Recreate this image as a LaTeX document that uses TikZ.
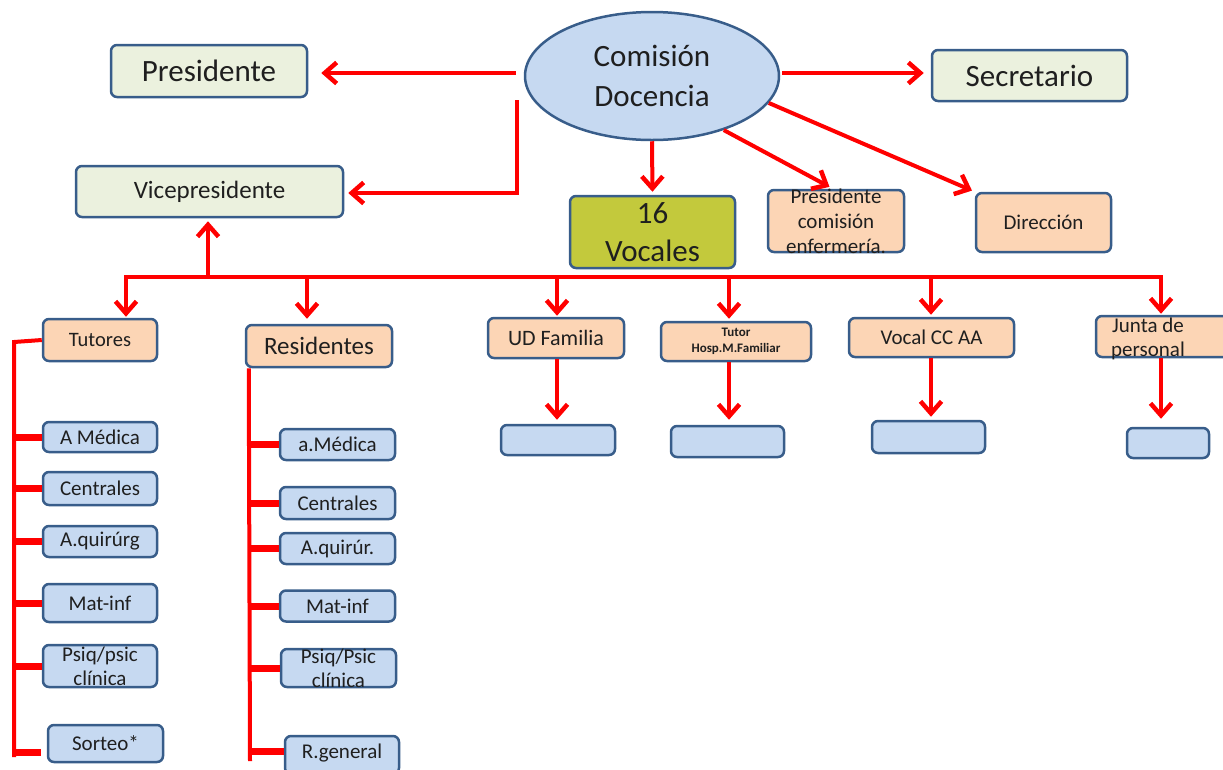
\documentclass[tikz,border=0pt]{standalone}
\usepackage{fontspec}
\setmainfont{Carlito}
\usetikzlibrary{arrows.meta,shapes.geometric,calc}
\definecolor{bdr}{HTML}{385D8A}
\definecolor{lblue}{HTML}{C6D9F1}
\definecolor{lgreen}{HTML}{EBF1DE}
\definecolor{peach}{HTML}{FCD5B5}
\definecolor{olivebox}{HTML}{C3C93C}
\definecolor{rline}{HTML}{FF0000}
\newcommand{\fsz}[2]{\fontsize{#1}{#2}\selectfont}
\newcommand{\mkbox}[8]{%
  \node[box,fill=#2,minimum width=#5pt,minimum height=#6pt] (#1) at (#3,#4) {};
  \node[lbl,font=#7] (#1-t) at (#1) {#8};}
\tikzset{
  box/.style={draw=bdr, line width=2.5pt, rounded corners=6pt, inner sep=0pt},
  lbl/.style={inner sep=0pt, align=center, text=black!88},
  arr/.style={draw=rline, line width=4pt, -{Straight Barb[length=12pt,width=21pt,line width=4.5pt]}},
  wire/.style={draw=rline, line width=4pt},
  stub/.style={draw=rline, line width=7pt},
}
\begin{document}
\begin{tikzpicture}[x=1pt,y=-1pt]
\useasboundingbox (0,0) rectangle (1223,769);
\clip (0,0) rectangle (1223,769);

% top level
\node[ellipse, draw=bdr, line width=2.5pt, fill=lblue, minimum width=254pt, minimum height=128pt, inner sep=0pt] (com) at (652,76) {};
\node[lbl, font=\fsz{31}{40}] (com-t) at (com) {Comisión\\Docencia};

\mkbox{pres}{lgreen}{209}{71}{196}{52}{\fsz{31}{36}}{Presidente}
\mkbox{sec}{lgreen}{1029.5}{75.5}{195}{51}{\fsz{31}{36}}{Secretario}
\mkbox{vice}{lgreen}{209.5}{191.5}{267}{51}{\fsz{25}{30}}{Vicepresidente}
\mkbox{voc}{olivebox}{652.5}{232}{165}{72}{\fsz{31}{38}}{16\\Vocales}
\mkbox{penf}{peach}{836}{221}{136}{62}{\fsz{21}{25}}{Presidente\\comisión\\enfermería.}
\mkbox{dir}{peach}{1043.5}{222.5}{135}{59}{\fsz{21}{25}}{Dirección}

% second level
\mkbox{tut}{peach}{100}{340}{114}{42}{\fsz{20.5}{24}}{Tutores}
\mkbox{res}{peach}{319}{346}{146}{42}{\fsz{25}{30}}{Residentes}
\mkbox{udf}{peach}{556}{338}{136}{40}{\fsz{22}{26}}{UD Familia}
\mkbox{thf}{peach}{736}{341.5}{150}{39}{\bfseries\fsz{13}{16}}{Tutor\\Hosp.M.Familiar}
\mkbox{vcc}{peach}{931.5}{337.5}{165}{39}{\fsz{21}{25}}{Vocal CC AA}
\node[box,fill=peach,minimum width=140pt,minimum height=41pt] (jun) at (1166,336.5) {};
\node[lbl,font=\fsz{21}{24}] (jun-t) at (1148,339) {Junta de\\personal};

% empty boxes
\node[box,fill=lblue,minimum width=114pt,minimum height=30pt] (udf2) at (558,440) {};
\node[box,fill=lblue,minimum width=113pt,minimum height=31pt] (thf2) at (727.5,441.5) {};
\node[box,fill=lblue,minimum width=113pt,minimum height=32pt] (vcc2) at (928.5,437) {};
\node[box,fill=lblue,minimum width=82pt,minimum height=30pt] (jun2) at (1168,443) {};

% tutores children
\mkbox{tA}{lblue}{100}{437}{114}{30}{\fsz{21}{24}}{A Médica}
\mkbox{tC}{lblue}{100}{488.5}{114}{33}{\fsz{21}{24}}{Centrales}
\mkbox{tQ}{lblue}{100}{541.5}{114}{31}{\fsz{21}{24}}{A.quirúrg}
\mkbox{tM}{lblue}{100}{603}{114}{38}{\fsz{21}{24}}{Mat-inf}
\mkbox{tP}{lblue}{100}{666}{114}{42}{\fsz{21}{24}}{Psiq/psic\\clínica}
\mkbox{tS}{lblue}{105.5}{743.5}{115}{37}{\fsz{21}{24}}{Sorteo*}

% residentes children
\mkbox{rA}{lblue}{337.5}{444.5}{115}{31}{\fsz{21}{24}}{a.Médica}
\mkbox{rC}{lblue}{337.5}{503}{115}{32}{\fsz{21}{24}}{Centrales}
\mkbox{rQ}{lblue}{337.5}{548.5}{115}{31}{\fsz{21}{24}}{A.quirúr.}
\mkbox{rM}{lblue}{337.5}{606}{115}{31}{\fsz{21}{24}}{Mat-inf}
\mkbox{rP}{lblue}{338.5}{668}{115}{38}{\fsz{21}{24}}{Psiq/Psic\\clínica}
\node[box,fill=lblue,minimum width=114pt,minimum height=38pt] (rG) at (342,755) {};
\node[lbl,font=\fsz{21}{24}] (rG-t) at (342,753) {R.general};

% connectors from Comisión
\coordinate (a1) at ([xshift=-8pt,yshift=3pt]com.west);
\draw[arr, shorten >=13pt] (a1) -- (a1 -| pres.east);
\coordinate (a2) at ([xshift=2pt,yshift=3pt]com.east);
\draw[arr, shorten >=7pt] (a2) -- (a2 -| sec.west);
\coordinate (v1) at (517,100);
\coordinate (v2) at (517,193);
\draw[arr, shorten >=4pt] (v1) -- (v2) -- (v2 -| vice.east);
\draw[arr, shorten >=3pt] (com.south) -- (voc.north);
\draw[arr, shorten >=4pt] (com.-37) -- ([xshift=-3pt]penf.north);
\draw[arr, shorten >=3pt] (com.-13) -- (dir.north west);

% bus
\coordinate (bus) at (208,277);
\coordinate (busL) at (124,277);
\coordinate (busR) at (1163,277);
\draw[wire] (busL) -- (busR);
\draw[arr, shorten >=3pt] (bus) -- (bus |- vice.south);
\coordinate (dT) at (126,277);
\coordinate (dR) at (307,277);
\coordinate (dU) at (557,277);
\coordinate (dH) at (729,277);
\coordinate (dV) at (931,277);
\coordinate (dJ) at (1161,277);
\draw[arr, shorten >=1pt] (dT) -- (dT |- tut.north);
\draw[arr, shorten >=5pt] (dR) -- (dR |- res.north);
\draw[arr, shorten >=1pt] (dU) -- (dU |- udf.north);
\draw[arr, shorten >=2pt] (dH) -- (dH |- thf.north);
\draw[arr, shorten >=2pt] (dV) -- (dV |- vcc.north);
\draw[arr, shorten >=1pt] (dJ) -- (dJ |- jun.north);

% lower arrows
\draw[arr, shorten >=4pt] (dU |- udf.south) -- (dU |- udf2.north);
\draw[arr, shorten >=5pt] (dH |- thf.south) -- (dH |- thf2.north);
\draw[arr, shorten >=3pt] (dV |- vcc.south) -- (dV |- vcc2.north);
\draw[arr, shorten >=8pt] (dJ |- jun.south) -- (dJ |- jun2.north);

% tutores branch
\coordinate (tb) at (14,342);
\coordinate (tbe) at (14,757);
\draw[wire] (tut.west) -- (tb) -- (tbe);
\draw[stub] (tb |- tA.west) -- (tA.west);
\draw[stub] (tb |- tC.west) -- (tC.west);
\draw[stub] (tb |- tQ.west) -- (tQ.west);
\draw[stub] (tb |- tM.west) -- (tM.west);
\draw[stub] (tb |- tP.west) -- (tP.west);
\coordinate (ts) at (14,752);
\draw[stub] (ts) -- ([xshift=-6pt]tS.west |- ts);

% residentes branch
\coordinate (rb) at ([xshift=4pt]res.south west);
\coordinate (rbe) at (250,761);
\draw[wire] (rb) -- (rbe);
\draw[stub] (rbe |- rA.west) -- (rA.west);
\draw[stub] (rbe |- rC.west) -- (rC.west);
\draw[stub] (rbe |- rQ.west) -- (rQ.west);
\draw[stub] (rbe |- rM.west) -- (rM.west);
\draw[stub] (rbe |- rP.west) -- (rP.west);
\coordinate (rgs) at (250,751);
\draw[stub] (rgs) -- (rgs -| rG.west);
\end{tikzpicture}
\end{document}
